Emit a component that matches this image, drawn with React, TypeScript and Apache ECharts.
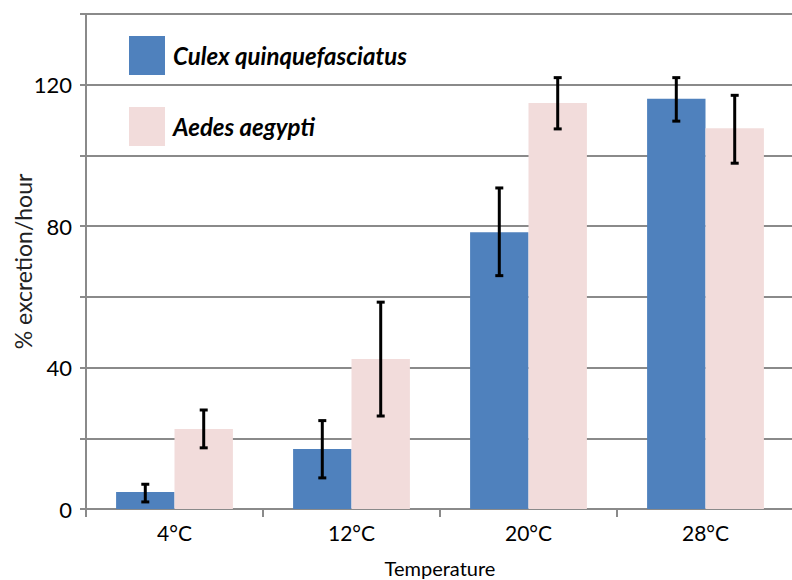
import React, { useEffect, useRef } from "react";
import * as echarts from "echarts";

const categories = ["4°C", "12°C", "20°C", "28°C"];
const seriesNames = ["Culex quinquefasciatus", "Aedes aegypti"];
const culexMeans = [4.8, 17, 78.3, 116];
const culexLow = [2.0, 8.8, 66, 109.7];
const culexHigh = [7.0, 25, 90.8, 122];
const aedesMeans = [22.6, 42.4, 114.8, 107.7];
const aedesLow = [17.3, 26.3, 107.5, 97.8];
const aedesHigh = [28, 58.5, 122, 117];
const yTicks = [0, 40, 80, 120];

const BAR_GAP_RATIO = 0.34;

function makeErrorSeries(idx: number, low: number[], high: number[]) {
  return {
    type: "custom",
    name: seriesNames[idx] + " error",
    z: 10,
    silent: true,
    encode: { x: 0, y: [1, 2] },
    data: categories.map((_, i) => [i, low[i], high[i]]),
    renderItem: (params: any, api: any) => {
      const ci = api.value(0);
      const lo = api.coord([ci, api.value(1)]);
      const hi = api.coord([ci, api.value(2)]);
      const catW = api.size([1, 0])[0];
      const barW = (catW * (1 - BAR_GAP_RATIO)) / 2;
      const x = lo[0] + (idx === 0 ? -barW / 2 : barW / 2);
      const cap = 4;
      const style = { stroke: "#000", lineWidth: 3 };
      return {
        type: "group",
        children: [
          { type: "line", shape: { x1: x, y1: lo[1], x2: x, y2: hi[1] }, style },
          { type: "line", shape: { x1: x - cap, y1: lo[1], x2: x + cap, y2: lo[1] }, style },
          { type: "line", shape: { x1: x - cap, y1: hi[1], x2: x + cap, y2: hi[1] }, style },
        ],
      };
    },
  };
}

export default function App() {
  const ref = useRef<HTMLDivElement>(null);
  useEffect(() => {
    if (!ref.current) return;
    const chart = echarts.init(ref.current, undefined, { renderer: "svg" });
    const gray = "#8a8a8a";
    chart.setOption({
      animation: false,
      backgroundColor: "#ffffff",
      grid: {
        left: 86,
        right: -2,
        top: 14,
        bottom: 71,
        containLabel: false,
        outerBoundsMode: "none",
      },
      legend: {
        data: seriesNames,
        orient: "vertical",
        left: 124,
        top: 31,
        itemWidth: 36,
        itemHeight: 39,
        itemGap: 32,
        icon: "rect",
        selectedMode: false,
        textStyle: {
          fontFamily: "Lato",
          fontWeight: "bold",
          fontStyle: "italic",
          fontSize: 24,
          color: "#000",
          padding: [0, 0, 0, 3],
        },
      },
      xAxis: {
        type: "category",
        data: categories,
        name: "Temperature",
        nameLocation: "middle",
        nameGap: 49,
        nameMoveOverlap: false,
        nameTextStyle: { fontFamily: "Lato", fontSize: 20, color: "#000" },
        axisLine: { show: true, lineStyle: { color: gray, width: 2 } },
        axisTick: { show: true, length: 8, lineStyle: { color: gray, width: 2 } },
        axisLabel: { fontFamily: "Lato", fontSize: 21, color: "#000", margin: 13 },
        splitLine: { show: false },
      },
      yAxis: {
        type: "value",
        min: 0,
        max: 140,
        interval: 20,
        name: "% excretion/hour",
        nameLocation: "middle",
        nameGap: 52,
        nameMoveOverlap: false,
        nameTextStyle: { fontFamily: "Lato", fontSize: 23, color: "#222" },
        axisLine: { show: true, lineStyle: { color: gray, width: 2 } },
        axisTick: { show: true, length: 6, lineStyle: { color: gray, width: 2 } },
        axisLabel: {
          fontFamily: "Lato",
          fontSize: 22,
          color: "#000",
          margin: 14,
          formatter: (v: number) => (yTicks.includes(v) ? String(v) : ""),
        },
        splitLine: { show: true, lineStyle: { color: gray, width: 2 } },
      },
      series: [
        {
          type: "bar",
          name: seriesNames[0],
          data: culexMeans,
          barGap: "0%",
          barCategoryGap: BAR_GAP_RATIO * 100 + "%",
          itemStyle: { color: "#4f81bd" },
          z: 2,
        },
        {
          type: "bar",
          name: seriesNames[1],
          data: aedesMeans,
          barGap: "0%",
          barCategoryGap: BAR_GAP_RATIO * 100 + "%",
          itemStyle: { color: "#f2dcdb" },
          z: 2,
        },
        makeErrorSeries(0, culexLow, culexHigh),
        makeErrorSeries(1, aedesLow, aedesHigh),
      ],
    });
    return () => chart.dispose();
  }, []);
  return (
    <div
      ref={ref}
      style={{ position: "absolute", left: 0, top: 0, width: 792, height: 580 }}
    />
  );
}
